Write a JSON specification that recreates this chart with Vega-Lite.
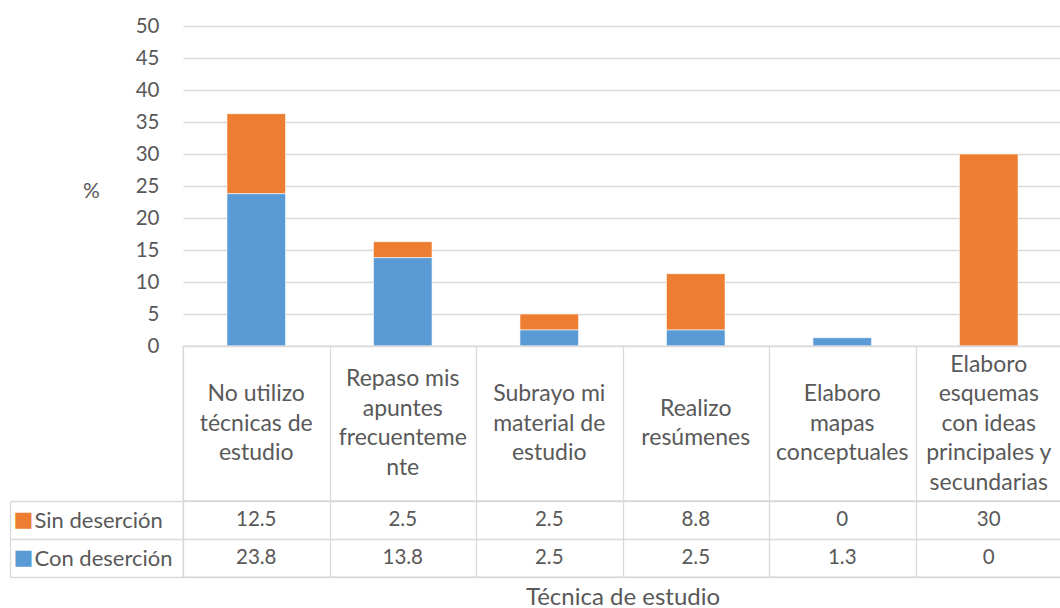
{
  "$schema": "https://vega.github.io/schema/vega-lite/v6.json",
  "padding": {"left": 8, "top": 16, "right": 0, "bottom": 0},
  "background": "white",
  "spacing": 0,
  "bounds": "flush",
  "config": {
    "font": "Lato",
    "view": {"stroke": null},
    "axis": {"labelColor": "#595959", "titleColor": "#595959", "labelFont": "Lato", "titleFont": "Lato", "titleFontWeight": "normal", "gridColor": "#d9d9d9", "gridWidth": 1.3}
  },
  "datasets": {
    "tecnicas": [
      {"tecnica": "No utilizo técnicas de estudio", "etiqueta": "No utilizo\ntécnicas de\nestudio"},
      {"tecnica": "Repaso mis apuntes frecuentemente", "etiqueta": "Repaso mis\napuntes\nfrecuenteme\nnte"},
      {"tecnica": "Subrayo mi material de estudio", "etiqueta": "Subrayo mi\nmaterial de\nestudio"},
      {"tecnica": "Realizo resúmenes", "etiqueta": "Realizo\nresúmenes"},
      {"tecnica": "Elaboro mapas conceptuales", "etiqueta": "Elaboro\nmapas\nconceptuales"},
      {"tecnica": "Elaboro esquemas con ideas principales y secundarias", "etiqueta": "Elaboro\nesquemas\ncon ideas\nprincipales y\nsecundarias"}
    ],
    "valores": [
      {"tecnica": "No utilizo técnicas de estudio", "serie": "Sin deserción", "valor": 12.5},
      {"tecnica": "Repaso mis apuntes frecuentemente", "serie": "Sin deserción", "valor": 2.5},
      {"tecnica": "Subrayo mi material de estudio", "serie": "Sin deserción", "valor": 2.5},
      {"tecnica": "Realizo resúmenes", "serie": "Sin deserción", "valor": 8.8},
      {"tecnica": "Elaboro mapas conceptuales", "serie": "Sin deserción", "valor": 0},
      {"tecnica": "Elaboro esquemas con ideas principales y secundarias", "serie": "Sin deserción", "valor": 30},
      {"tecnica": "No utilizo técnicas de estudio", "serie": "Con deserción", "valor": 23.8},
      {"tecnica": "Repaso mis apuntes frecuentemente", "serie": "Con deserción", "valor": 13.8},
      {"tecnica": "Subrayo mi material de estudio", "serie": "Con deserción", "valor": 2.5},
      {"tecnica": "Realizo resúmenes", "serie": "Con deserción", "valor": 2.5},
      {"tecnica": "Elaboro mapas conceptuales", "serie": "Con deserción", "valor": 1.3},
      {"tecnica": "Elaboro esquemas con ideas principales y secundarias", "serie": "Con deserción", "valor": 0}
    ]
  },
  "resolve": {"scale": {"x": "independent", "y": "independent"}},
  "vconcat": [
    {
      "width": 879,
      "height": 320,
      "data": {"name": "valores"},
      "transform": [{"filter": "datum.valor > 0"}],
      "mark": {"type": "bar", "stroke": "white", "strokeWidth": 0.6},
      "encoding": {
        "x": {
          "field": "tecnica", "type": "nominal",
          "sort": ["No utilizo técnicas de estudio", "Repaso mis apuntes frecuentemente", "Subrayo mi material de estudio", "Realizo resúmenes", "Elaboro mapas conceptuales", "Elaboro esquemas con ideas principales y secundarias"],
          "scale": {"paddingInner": 0.6, "paddingOuter": 0.3},
          "axis": null
        },
        "y": {
          "field": "valor", "type": "quantitative", "stack": "zero",
          "scale": {"domain": [0, 50]},
          "axis": {
            "values": [0, 5, 10, 15, 20, 25, 30, 35, 40, 45, 50],
            "title": "%", "titleAngle": 0, "titleX": -92, "titleY": 165, "titleAlign": "center", "titleBaseline": "middle", "titleFontSize": 21,
            "labelFontSize": 20.5, "labelPadding": 24, "ticks": false, "domain": false
          }
        },
        "color": {
          "field": "serie", "type": "nominal",
          "scale": {"domain": ["Con deserción", "Sin deserción"], "range": ["#5b9bd5", "#ed7d31"]},
          "legend": null
        },
        "order": {"field": "serie", "type": "nominal", "sort": "ascending"}
      }
    },
    {
      "width": 879,
      "height": 155,
      "view": {"stroke": "#d9d9d9", "strokeWidth": 1.3},
      "data": {"name": "tecnicas"},
      "mark": {
        "type": "text", "lineBreak": "\n", "lineHeight": 29.5, "fontSize": 23, "color": "#595959", "baseline": "middle",
        "dy": {"expr": "-(length(split(datum.etiqueta, '\\n')) - 1) * 29.5 / 2"}
      },
      "encoding": {
        "x": {
          "field": "tecnica", "type": "nominal",
          "sort": ["No utilizo técnicas de estudio", "Repaso mis apuntes frecuentemente", "Subrayo mi material de estudio", "Realizo resúmenes", "Elaboro mapas conceptuales", "Elaboro esquemas con ideas principales y secundarias"],
          "scale": {"padding": 0},
          "axis": {"orient": "top", "labels": false, "ticks": false, "domain": false, "title": null, "grid": true, "tickBand": "extent"}
        },
        "text": {"field": "etiqueta", "type": "nominal"}
      }
    },
    {
      "width": 879,
      "height": 76,
      "view": {"stroke": "#d9d9d9", "strokeWidth": 1.3},
      "data": {"name": "valores"},
      "layer": [
        {
          "mark": {"type": "text", "fontSize": 20.5, "color": "#595959"},
          "encoding": {
            "x": {
              "field": "tecnica", "type": "nominal",
              "sort": ["No utilizo técnicas de estudio", "Repaso mis apuntes frecuentemente", "Subrayo mi material de estudio", "Realizo resúmenes", "Elaboro mapas conceptuales", "Elaboro esquemas con ideas principales y secundarias"],
              "scale": {"padding": 0},
              "axis": {"orient": "bottom", "labels": false, "ticks": false, "domain": false, "grid": true, "tickBand": "extent", "title": "Técnica de estudio", "titleFontSize": 24, "titlePadding": 8}
            },
            "y": {
              "field": "serie", "type": "nominal",
              "sort": ["Sin deserción", "Con deserción"],
              "scale": {"padding": 0},
              "axis": {"orient": "left", "title": null, "grid": true, "tickBand": "extent", "tickSize": 173, "tickColor": "#d9d9d9", "tickWidth": 1.3, "domain": false, "labelAlign": "left", "labelPadding": -24, "labelFontSize": 22}
            },
            "text": {"field": "valor", "type": "nominal"}
          }
        },
        {
          "mark": {"type": "text", "text": ""},
          "encoding": {
            "y": {
              "field": "serie", "type": "nominal",
              "sort": ["Sin deserción", "Con deserción"],
              "axis": {
                "orient": "left", "offset": 173, "title": null, "ticks": false, "grid": false,
                "domain": true, "domainColor": "#d9d9d9", "domainWidth": 1.3,
                "labelExpr": "'■'",
                "labelColor": {"condition": {"test": "datum.value == 'Sin deserción'", "value": "#ed7d31"}, "value": "#5b9bd5"},
                "labelAlign": "left", "labelPadding": -3, "labelFontSize": 21, "labelFont": "DejaVu Sans"
              }
            }
          }
        }
      ],
      "resolve": {"axis": {"y": "independent"}}
    }
  ]
}
